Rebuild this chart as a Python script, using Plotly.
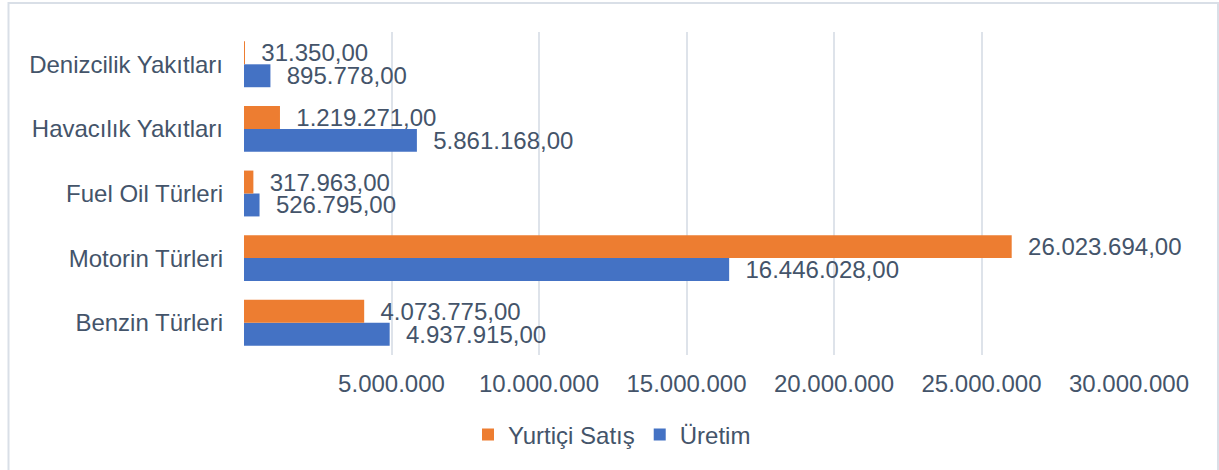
import plotly.graph_objects as go

categories = ["Benzin Türleri", "Motorin Türleri", "Fuel Oil Türleri", "Havacılık Yakıtları", "Denizcilik Yakıtları"]
uretim = [4937915, 16446028, 526795, 5861168, 895778]
yurtici_satis = [4073775, 26023694, 317963, 1219271, 31350]
tick_values = [0, 5000000, 10000000, 15000000, 20000000, 25000000, 30000000]
tick_labels = ["", "5.000.000", "10.000.000", "15.000.000", "20.000.000", "25.000.000", "30.000.000"]

TXT = "#44546A"
FONT = "Liberation Sans, Arial, sans-serif"
W, H = 1219, 470
ML, MR, MT, MB = 244, 90, 32, 115

fig = go.Figure()
fig.add_trace(go.Bar(
    name="Üretim", y=categories, x=uretim, orientation="h",
    marker=dict(color="#4472C4", line=dict(width=0)),
    texttemplate="\u00a0\u00a0%{x:,.2f}", textposition="outside",
    textfont=dict(size=24, color=TXT, family=FONT),
    constraintext="none", cliponaxis=False, hoverinfo="skip",
))
fig.add_trace(go.Bar(
    name="Yurtiçi Satış", y=categories, x=yurtici_satis, orientation="h",
    marker=dict(color="#ED7D31", line=dict(width=0)),
    texttemplate="\u00a0\u00a0%{x:,.2f}", textposition="outside",
    textfont=dict(size=24, color=TXT, family=FONT),
    constraintext="none", cliponaxis=False, hoverinfo="skip",
))

pw = W - ML - MR
ph = H - MT - MB

fig.update_layout(
    width=W, height=H, autosize=False,
    margin=dict(l=ML, r=MR, t=MT, b=MB, pad=0),
    paper_bgcolor="white", plot_bgcolor="white",
    separators=",.",
    barmode="group", bargap=0.29, bargroupgap=0,
    font=dict(family=FONT, size=24, color=TXT),
    showlegend=True,
    legend=dict(orientation="h", traceorder="reversed",
                x=(612 - ML) / pw, xanchor="center",
                y=(H - MB - 435) / ph, yanchor="middle",
                font=dict(size=24, color=TXT, family=FONT),
                itemwidth=30, bgcolor="rgba(0,0,0,0)"),
    xaxis=dict(range=[0, 30000000], tickvals=tick_values, ticktext=tick_labels,
               showgrid=True, gridcolor="#DEE3EA", gridwidth=1.5,
               zeroline=False, showline=False, ticks="",
               ticklabelstandoff=12, automargin=False, fixedrange=True,
               tickfont=dict(size=24, color=TXT, family=FONT)),
    yaxis=dict(showgrid=False, zeroline=False, showline=False, ticks="",
               ticklabelstandoff=20, automargin=False, fixedrange=True,
               tickfont=dict(size=24, color=TXT, family=FONT)),
    shapes=[dict(type="rect", xref="paper", yref="paper",
                 x0=(8.5 - ML) / pw, x1=(1218 - ML) / pw,
                 y0=(H - MB - 490) / ph, y1=(H - MB - 3) / ph,
                 line=dict(color="#D9DFE7", width=2), fillcolor="rgba(0,0,0,0)",
                 layer="below")],
)

fig.write_html("out.html", config={"displayModeBar": False},
               post_script="document.body.style.margin='0';document.body.style.overflow='hidden';")
